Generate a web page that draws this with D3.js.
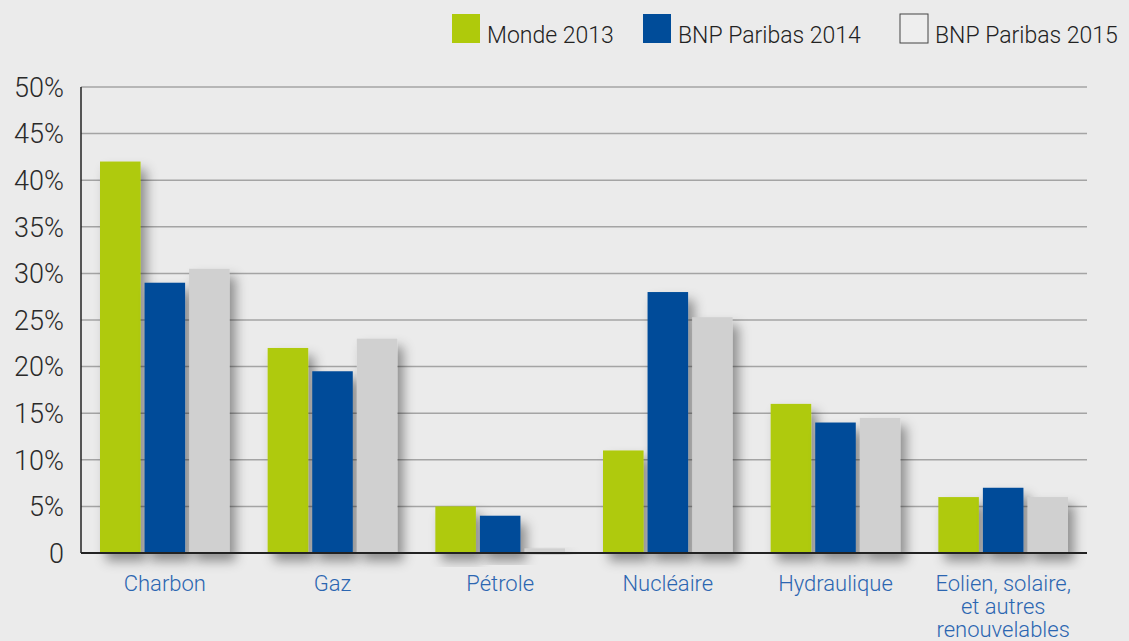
<!DOCTYPE html>
<html>
<head>
<meta charset="utf-8">
<script src="https://cdn.jsdelivr.net/npm/d3@7"></script>
<style>
  body { margin: 0; background: #ebebeb; }
  svg { display: block; font-family: Roboto, "DejaVu Sans", sans-serif; }
</style>
</head>
<body>
<div id="chart"></div>
<script>
// categories and series
const categories = ["Charbon", "Gaz", "Pétrole", "Nucléaire", "Hydraulique", "Eolien, solaire,\net autres\nrenouvelables"];
const series = ["Monde 2013", "BNP Paribas 2014", "BNP Paribas 2015"];
const monde2013 = [42, 22, 5, 11, 16, 6];
const bnp2014 = [29, 19.5, 4, 28, 14, 7];
const bnp2015 = [30.5, 23, 0.5, 25.3, 14.5, 6];
const yTicks = [0, 5, 10, 15, 20, 25, 30, 35, 40, 45, 50];

const width = 1129, height = 641;
const colors = ["#afca0b", "#004c99", "#d0d0d0"];
const margin = { top: 87, right: 42, bottom: 88, left: 81 };

const svg = d3.select("#chart").append("svg")
    .attr("width", width)
    .attr("height", height);

svg.append("rect").attr("width", width).attr("height", height).attr("fill", "#ebebeb");

// soft drop shadow under the bars
const defs = svg.append("defs");
const f = defs.append("filter").attr("id", "shadow")
    .attr("x", "-30%").attr("y", "-10%").attr("width", "180%").attr("height", "140%");
f.append("feDropShadow")
    .attr("dx", 6).attr("dy", 8)
    .attr("stdDeviation", 6)
    .attr("flood-color", "#000")
    .attr("flood-opacity", 0.4);

const x0 = d3.scaleBand()
    .domain(categories)
    .range([margin.left, width - margin.right]);

const x1 = d3.scaleBand()
    .domain(series)
    .range([19, x0.bandwidth() - 19])
    .paddingInner(0.09);

const y = d3.scaleLinear()
    .domain([0, 50])
    .range([height - margin.bottom, margin.top]);

// gridlines
svg.append("g")
    .selectAll("line")
    .data(yTicks.slice(1))
    .join("line")
    .attr("x1", margin.left)
    .attr("x2", width - margin.right)
    .attr("y1", d => y(d))
    .attr("y2", d => y(d))
    .attr("stroke", "#a4a4a4")
    .attr("stroke-width", 1.5);

// y tick labels
svg.append("g")
    .selectAll("text")
    .data(yTicks)
    .join("text")
    .attr("x", 64)
    .attr("y", d => y(d))
    .attr("dy", "0.36em")
    .attr("text-anchor", "end")
    .attr("fill", "#2a2a2a")
    .style("font-size", "27px")
    .style("font-weight", 300)
    .text(d => d === 0 ? "0" : d + "%");

// bars
const rows = categories.map((c, i) => ({
    cat: c,
    vals: [monde2013[i], bnp2014[i], bnp2015[i]]
}));

const groups = svg.append("g")
    .selectAll("g")
    .data(rows)
    .join("g")
    .attr("transform", d => `translate(${x0(d.cat)},0)`);

groups.selectAll("rect")
    .data(d => d.vals.map((v, j) => ({ s: series[j], v: v, j: j })))
    .join("rect")
    .attr("x", d => x1(d.s))
    .attr("width", x1.bandwidth())
    .attr("y", d => y(d.v))
    .attr("height", d => y(0) - y(d.v))
    .attr("fill", d => colors[d.j])
    .attr("filter", "url(#shadow)");

// axes lines
svg.append("line")
    .attr("x1", margin.left).attr("x2", margin.left)
    .attr("y1", y(50)).attr("y2", y(0))
    .attr("stroke", "#222").attr("stroke-width", 1.5);
svg.append("line")
    .attr("x1", margin.left).attr("x2", width - margin.right)
    .attr("y1", y(0)).attr("y2", y(0))
    .attr("stroke", "#222").attr("stroke-width", 2);

// category labels
const catLabels = svg.append("g")
    .selectAll("text")
    .data(categories)
    .join("text")
    .attr("x", d => x0(d) + x0.bandwidth() / 2)
    .attr("y", 591)
    .attr("text-anchor", "middle")
    .attr("fill", "#2b66b1")
    .style("font-size", "22px")
    .style("font-weight", 300);

catLabels.selectAll("tspan")
    .data(d => d.split("\n"))
    .join("tspan")
    .attr("x", function() { return d3.select(this.parentNode).attr("x"); })
    .attr("dy", (d, i) => i === 0 ? 0 : 23)
    .text(d => d);

// legend
const legendX = [452, 643, 900];
const legend = svg.append("g")
    .selectAll("g")
    .data(series)
    .join("g")
    .attr("transform", (d, i) => `translate(${legendX[i]},14)`);

legend.append("rect")
    .attr("width", 28)
    .attr("height", 29)
    .attr("fill", (d, i) => i === 2 ? "#eeeeee" : colors[i])
    .attr("stroke", (d, i) => i === 2 ? "#444" : "none")
    .attr("stroke-width", 1);

legend.append("text")
    .attr("x", 35)
    .attr("y", 29)
    .attr("fill", "#222")
    .style("font-size", "23px")
    .style("font-weight", 300)
    .text(d => d);
</script>
</body>
</html>
